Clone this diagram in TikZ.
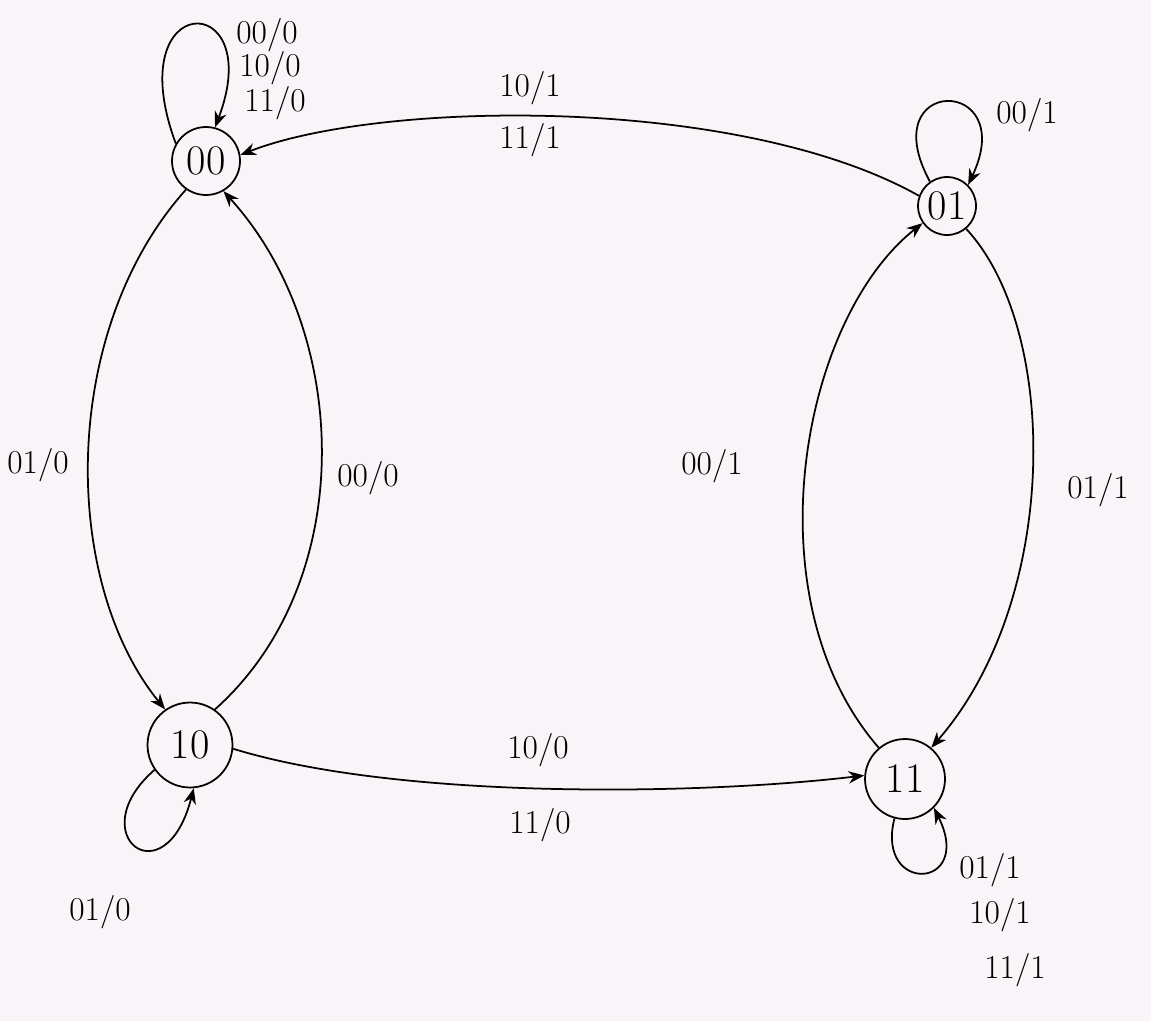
\documentclass[tikz,border=0pt]{standalone}
\usetikzlibrary{arrows.meta}
\definecolor{paper}{RGB}{249,244,248}
\begin{document}
\begin{tikzpicture}[x=0.02cm,y=0.02cm,
  state/.style={circle,draw,line width=1pt,inner sep=0pt,font=\fontsize{24}{28}\selectfont},
  edge/.style={line width=1pt,-{Stealth[length=9pt,width=7pt]}},
  lab/.style={font=\fontsize{19}{22}\selectfont,inner sep=1pt}]
\fill[paper] (0,0) rectangle (1151,-1021);
\useasboundingbox (0,0) rectangle (1151,-1021);
\node[state,minimum size=1.36cm] (n00) at (206,-161) {00};
\node[state,minimum size=1.16cm] (n01) at (947,-206) {01};
\node[state,minimum size=1.70cm] (n10) at (190,-745) {10};
\node[state,minimum size=1.60cm] (n11) at (905,-779) {11};
% self loops
\draw[edge] (n00.150) .. controls (118,12) and (268,12) .. (n00.75);
\draw[edge] (n01.125) .. controls (872,-75) and (1020,-75) .. (n01.45);
\draw[edge] (n10.215) .. controls (80,-835) and (165,-900) .. (n10.275);
\draw[edge] (n11.255) .. controls (875,-895) and (975,-890) .. (n11.315);
% transitions
\draw[edge] (n01.160) .. controls (740,-95) and (380,-100) .. (n00.10);
\draw[edge] (n00.235) .. controls (60,-330) and (60,-580) .. (n10.125);
\draw[edge] (n10.55) .. controls (360,-580) and (350,-330) .. (n00.300);
\draw[edge] (n10.355) .. controls (400,-800) and (700,-795) .. (n11.175);
\draw[edge] (n11.130) .. controls (750,-600) and (800,-320) .. (n01.215);
\draw[edge] (n01.310) .. controls (1060,-330) and (1060,-600) .. (n11.50);
% labels
\node[lab] (l00a) at (267,-35) {00/0};
\node[lab] (l00b) at (270,-68) {10/0};
\node[lab] (l00c) at (275,-103) {11/0};
\node[lab] (l01a) at (530,-88) {10/1};
\node[lab] (l01b) at (530,-140) {11/1};
\node[lab] (l01c) at (1027,-115) {00/1};
\node[lab] (l01d) at (38,-465) {01/0};
\node[lab] (l00d) at (368,-478) {00/0};
\node[lab] (l11a) at (712,-466) {00/1};
\node[lab] (l01e) at (1098,-490) {01/1};
\node[lab] (l10a) at (538,-750) {10/0};
\node[lab] (l10b) at (540,-825) {11/0};
\node[lab] (l10c) at (100,-912) {01/0};
\node[lab] (l11b) at (990,-870) {01/1};
\node[lab] (l11c) at (1000,-915) {10/1};
\node[lab] (l11d) at (1015,-970) {11/1};
\end{tikzpicture}
\end{document}
